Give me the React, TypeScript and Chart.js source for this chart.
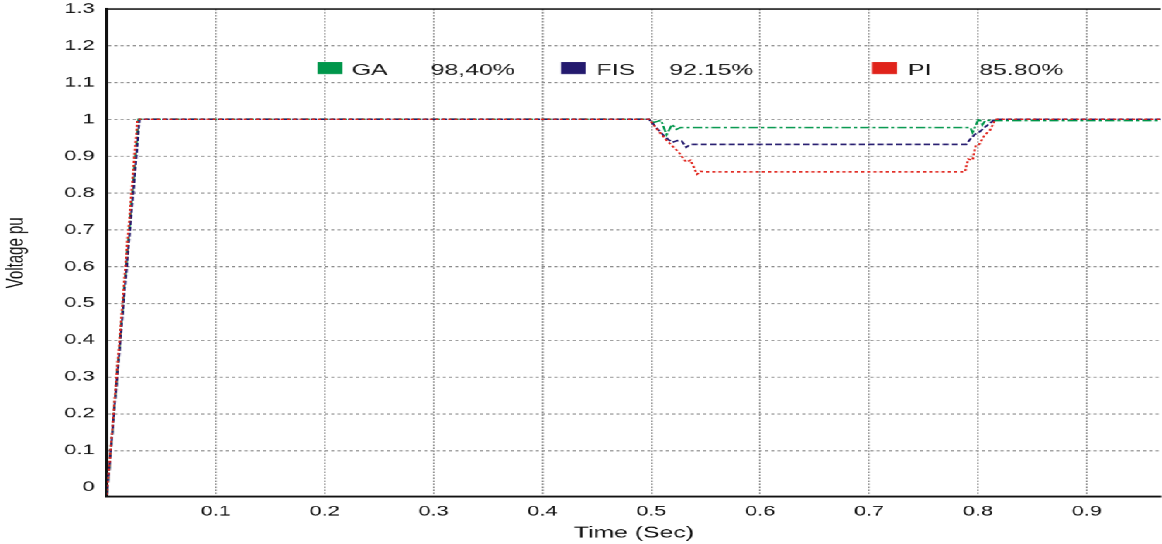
import { useEffect, useRef } from 'react';
import { Chart, registerables } from 'chart.js';

Chart.register(...registerables);

// ---- data ----
const gaTime = [0, 0.029, 0.498, 0.502, 0.509, 0.514, 0.519, 0.523, 0.527, 0.793, 0.795, 0.801, 0.804, 0.807, 0.812, 1.0];
const gaVolt = [-0.02, 1.0, 1.0, 0.992, 0.997, 0.959, 0.986, 0.973, 0.978, 0.978, 0.965, 1.003, 0.985, 0.998, 0.997, 0.997];

const fisTime = [0, 0.03, 0.498, 0.507, 0.513, 0.519, 0.525, 0.528, 0.532, 0.536, 0.789, 0.792, 0.797, 0.801, 0.806, 0.811, 0.815, 1.0];
const fisVolt = [-0.02, 1.0, 1.0, 0.97, 0.951, 0.938, 0.943, 0.941, 0.924, 0.932, 0.932, 0.943, 0.959, 0.965, 0.978, 0.989, 1.0, 1.0];

const piTime = [0, 0.028, 0.498, 0.513, 0.525, 0.532, 0.536, 0.542, 0.545, 0.55, 0.788, 0.791, 0.795, 0.798, 0.801, 0.806, 0.811, 0.816, 1.0];
const piVolt = [-0.02, 1.0, 1.0, 0.946, 0.911, 0.884, 0.889, 0.851, 0.859, 0.857, 0.857, 0.892, 0.889, 0.93, 0.932, 0.957, 0.97, 1.0, 1.0];

const xTickValues = [0, 0.1, 0.2, 0.3, 0.4, 0.5, 0.6, 0.7, 0.8, 0.9];
const yTickValues = [0, 0.1, 0.2, 0.3, 0.4, 0.5, 0.6, 0.7, 0.8, 0.9, 1.0, 1.1, 1.2, 1.3];

const legendNames = ['GA', 'FIS', 'PI'];
const legendScores = ['98,40%', '92.15%', '85.80%'];

// ---- style ----
const GREEN = '#00964b';
const NAVY = '#241a6e';
const RED = '#e0231b';
const FONT = '"Liberation Sans", Arial, Helvetica, sans-serif';
const BASE_W = 750;
const STRETCH = 1162 / BASE_W;
const GRID = '#858585';

// legend layout (unstretched px): swatch x, name x, score x
const legendLayout = [
  { sw: 205, name: 227, score: 278, color: GREEN },
  { sw: 362, name: 385, score: 432, color: NAVY },
  { sw: 563, name: 586, score: 632, color: RED },
];

const pts = (t: number[], v: number[]) => t.map((x, i) => ({ x, y: v[i] }));

const framePlugin = {
  id: 'frameTop',
  afterDraw(chart: any) {
    const { ctx, chartArea } = chart;
    ctx.save();
    ctx.strokeStyle = '#111';
    ctx.lineWidth = 1.5;
    ctx.beginPath();
    ctx.moveTo(chartArea.left, chartArea.top);
    ctx.lineTo(chartArea.right, chartArea.top);
    ctx.stroke();
    ctx.restore();
  },
};

const legendPlugin = {
  id: 'scoreLegend',
  afterDraw(chart: any) {
    const { ctx } = chart;
    ctx.save();
    ctx.font = `16px ${FONT}`;
    ctx.textBaseline = 'alphabetic';
    ctx.textAlign = 'left';
    legendLayout.forEach((l, i) => {
      ctx.fillStyle = l.color;
      ctx.fillRect(l.sw, 62, 16, 12);
      ctx.fillStyle = '#1a1a1a';
      ctx.fillText(legendNames[i], l.name, 75);
      ctx.fillText(legendScores[i], l.score, 75);
    });
    ctx.restore();
  },
};

const fmt = (v: number) => (v === 0 ? '0' : String(Math.round(v * 10) / 10));

export default function App() {
  const ref = useRef<HTMLCanvasElement | null>(null);

  useEffect(() => {
    document.body.style.margin = '0';
    document.body.style.overflow = 'hidden';
    if (!ref.current) return;
    const chart = new Chart(ref.current, {
      type: 'line',
      data: {
        datasets: [
          {
            label: 'PI',
            data: pts(piTime, piVolt),
            borderColor: RED,
            borderWidth: 1.5,
            borderDash: [2, 2],
            pointRadius: 0,
            tension: 0,
            fill: false,
          },
          {
            label: 'FIS',
            data: pts(fisTime, fisVolt),
            borderColor: NAVY,
            borderWidth: 1.5,
            borderDash: [4, 2],
            pointRadius: 0,
            tension: 0,
            fill: false,
          },
          {
            label: 'GA',
            data: pts(gaTime, gaVolt),
            borderColor: GREEN,
            borderWidth: 1.5,
            borderDash: [6, 2, 2, 2],
            pointRadius: 0,
            tension: 0,
            fill: false,
          },
        ],
      },
      options: {
        animation: false,
        responsive: true,
        maintainAspectRatio: false,
        devicePixelRatio: STRETCH,
        layout: { padding: { top: 9, right: 0, left: 0, bottom: 0 } },
        plugins: { legend: { display: false }, tooltip: { enabled: false } },
        scales: {
          x: {
            type: 'linear',
            min: 0,
            max: 0.968,
            afterBuildTicks: (s: any) => {
              s.ticks = xTickValues.map((v) => ({ value: v }));
            },
            afterFit: (s: any) => {
              s.height = 48;
              s.paddingLeft = 0;
              s.paddingRight = 0;
            },
            grid: {
              color: (c: any) => (c.tick && c.tick.value === 0 ? 'rgba(0,0,0,0)' : GRID),
              lineWidth: 1,
              drawTicks: false,
            },
            border: { display: true, color: '#111', width: 2, dash: [1.5, 1.5] },
            ticks: {
              padding: 7,
              color: '#111',
              autoSkip: false,
              maxRotation: 0,
              font: { family: FONT, size: 14 },
              callback: (v: any) => (v === 0 ? '' : fmt(Number(v))),
            },
            title: {
              display: true,
              text: 'Time (Sec)',
              color: '#111',
              font: { family: FONT, size: 16 },
              padding: { top: 0, bottom: 2 },
            },
          },
          y: {
            type: 'linear',
            min: -0.025,
            max: 1.3,
            afterBuildTicks: (s: any) => {
              s.ticks = yTickValues.map((v) => ({ value: v }));
            },
            afterFit: (s: any) => {
              s.width = 69;
              s.paddingTop = 0;
              s.paddingBottom = 0;
            },
            grid: {
              color: (c: any) =>
                c.tick && (c.tick.value === 0 || c.tick.value === 1.3) ? 'rgba(0,0,0,0)' : GRID,
              lineWidth: 1,
              drawTicks: false,
            },
            border: { display: true, color: '#111', width: 2, dash: [2, 2] },
            ticks: {
              padding: 8,
              color: '#111',
              autoSkip: false,
              font: { family: FONT, size: 14 },
              callback: (v: any) => fmt(Number(v)),
            },
            title: {
              display: true,
              text: 'Voltage pu',
              color: '#111',
              font: { family: FONT, size: 15 },
              padding: { top: 2, bottom: 0 },
            },
          },
        },
      },
      plugins: [framePlugin, legendPlugin],
    } as any);
    return () => chart.destroy();
  }, []);

  return (
    <div
      style={{
        position: 'absolute',
        left: 0,
        top: 0,
        width: BASE_W,
        height: 544,
        transform: `scaleX(${STRETCH})`,
        transformOrigin: '0 0',
        background: '#fff',
      }}
    >
      <canvas ref={ref} />
    </div>
  );
}
